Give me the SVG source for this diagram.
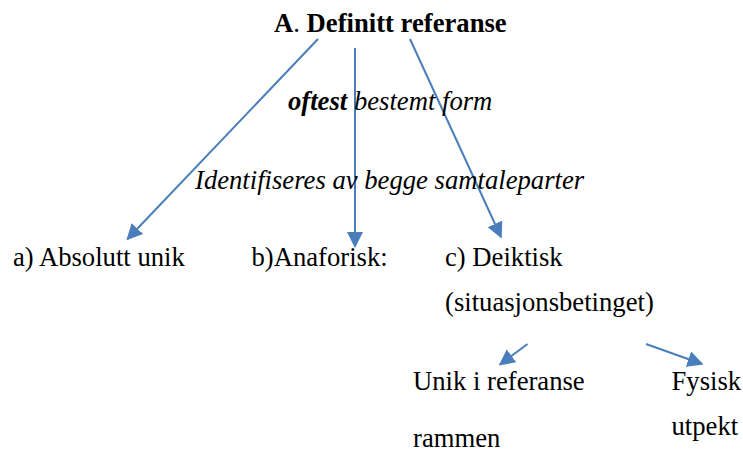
<svg xmlns="http://www.w3.org/2000/svg" width="743" height="455" viewBox="0 0 743 455">
  <style>
    text { font-family: "Liberation Serif", "Times New Roman", serif; font-size: 26.67px; fill: #000; }
    .b { font-weight: bold; }
    .i { font-style: italic; }
    .n { font-weight: normal; }
    .conn line { stroke: #4a7ebb; stroke-width: 2; fill: none; marker-end: url(#ah); }
  </style>
  <defs>
    <marker id="ah" viewBox="0 0 10 10" refX="9" refY="5" markerWidth="8" markerHeight="8.5" orient="auto" markerUnits="strokeWidth">
      <path d="M0,0 L10,5 L0,10 z" fill="#4a7ebb"/>
    </marker>
  </defs>
  <rect width="743" height="455" fill="#fff"/>
  <g id="connectors" class="conn">
    <line x1="318" y1="39" x2="127.5" y2="239"/>
    <line x1="355" y1="48" x2="355" y2="246.5"/>
    <line x1="410" y1="39" x2="501" y2="237"/>
    <line x1="527.5" y1="344" x2="500" y2="364.5"/>
    <line x1="646" y1="344" x2="702" y2="364"/>
  </g>
  <g id="title"><text x="274" y="32" class="b">A<tspan class="n">.</tspan> Definitt referanse</text></g>
  <g id="label-oftest"><text x="288" y="110" class="i"><tspan class="b">oftest</tspan> bestemt form</text></g>
  <g id="label-identifiseres"><text x="195" y="188.5" class="i">Identifiseres av begge samtaleparter</text></g>
  <g id="node-a"><text x="13" y="266">a) Absolutt unik</text></g>
  <g id="node-b"><text x="251.5" y="266">b)Anaforisk:</text></g>
  <g id="node-c"><text x="445" y="265.5">c) Deiktisk</text><text x="445" y="310.5">(situasjonsbetinget)</text></g>
  <g id="node-unik"><text x="413" y="390">Unik i referanse</text><text x="413" y="447">rammen</text></g>
  <g id="node-fysisk"><text x="671.5" y="390">Fysisk</text><text x="671.5" y="435">utpekt</text></g>
</svg>
